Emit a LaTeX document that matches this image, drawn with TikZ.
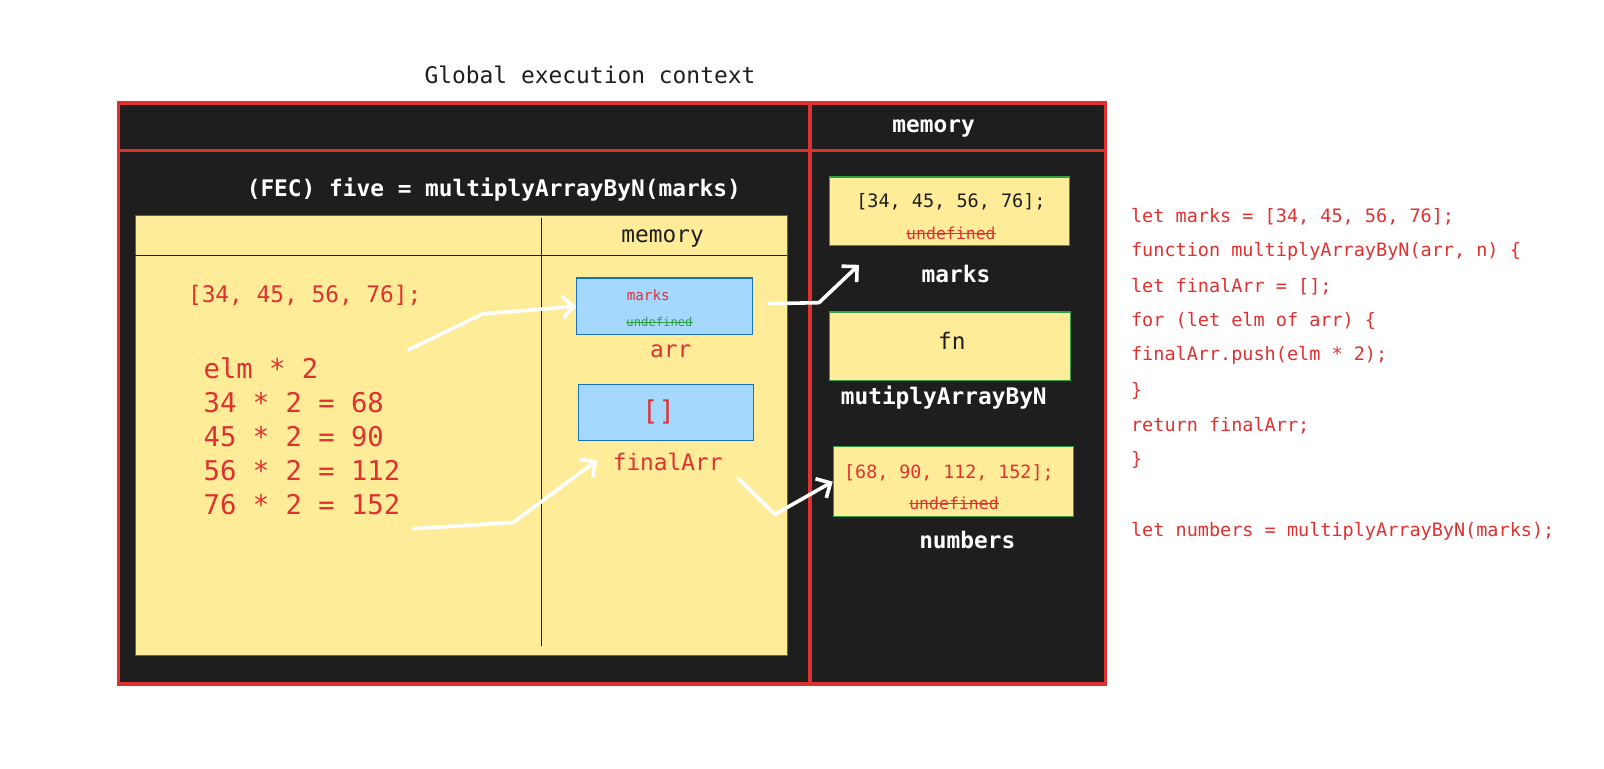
\documentclass[tikz,border=0pt]{standalone}
\usepackage{fontspec}
\setmonofont{DejaVu Sans Mono}
\usetikzlibrary{arrows.meta,fit}
\definecolor{ink}{HTML}{1E1E1E}
\definecolor{xred}{HTML}{E03131}
\definecolor{paper}{HTML}{FFEC99}
\definecolor{sky}{HTML}{A5D8FF}
\definecolor{skyline}{HTML}{1971C2}
\definecolor{leaf}{HTML}{2F9E44}
\newcommand{\mono}[1]{\ttfamily\fontsize{#1}{#1}\selectfont}
\tikzset{
  label white/.style={text=white, font=\mono{22.8}\bfseries, inner sep=0pt},
  label red/.style={text=xred, font=\mono{22.8}, inner sep=0pt},
  cell blue/.style={fill=sky, draw=skyline, line width=1.3pt, inner sep=0pt},
  cell yellow/.style={fill=paper, draw=leaf, line width=1.3pt, inner sep=0pt},
  code/.style={text=xred, font=\mono{18.5}, anchor=west, inner sep=0pt},
  link/.style={draw=white, line width=3.6pt, line cap=round, line join=round,
    -{Straight Barb[length=11pt,width=22pt,line width=3.6pt]}}
}
\begin{document}
\begin{tikzpicture}[x=1.0225pt,y=-1.0225pt]
	\useasboundingbox[fill=white] (0,0) rectangle (1568.7,751.1);
	\node[text=ink, font=\mono{22.9}] (title) at (577,73) {Global execution context};

	% outer frame
	\filldraw[fill=ink, draw=xred, line width=3.6pt] (116,101) rectangle (1081,669);
	\draw[xred, line width=3.6pt] (116,147) -- (1081,147);
	\draw[xred, line width=3.6pt] (792,101) -- (792,669);
	\node[label white] (gmem) at (913,126) {memory};

	% function execution context
	\node[label white] (fec) at (483,185) {(FEC) five = multiplyArrayByN(marks)};
	\filldraw[fill=paper, draw=ink!70, line width=0.8pt] (132,211) rectangle (770,641);
	\draw[ink, line width=1pt] (132,250) -- (770,250);
	\draw[ink, line width=1pt] (530,213) -- (530,632);
	\node[text=ink, font=\mono{22.8}, inner sep=0pt] (fmem) at (648,233) {memory};

	\node[label red] (marksval) at (298,289) {[34, 45, 56, 76];};
	\foreach \t [count=\i] in {elm * 2, 34 * 2 = 68, 45 * 2 = 90, 56 * 2 = 112, 76 * 2 = 152}
		\node[text=xred, font=\mono{27.2}, anchor=west, inner sep=0pt] (calc\i) at (199,327+33.3*\i) {\t};

	\node[cell blue, fit={(564,272) (736,327)}] (arrbox) {};
	\node[text=xred, font=\mono{14.3}, inner sep=0pt] (arrref) at (634,289) {marks};
	\node[text=leaf, font=\mono{12.2}, inner sep=0pt] (arrundef) at (645,315) {undefined};
	\draw[leaf, line width=1pt] (arrundef.west) -- (arrundef.east);
	\node[label red] (arr) at (656,344) {arr};

	\node[cell blue, fit={(566,376) (737,431)}] (finbox) {};
	\node[text=xred, font=\mono{27.2}, inner sep=0pt] (finval) at (644,403) {[]};
	\node[label red] (finalArr) at (653,452) {finalArr};

	% global memory
	\node[cell yellow, fit={(811,173) (1046,240)}] (marksbox) {};
	\node[text=ink, font=\mono{18.5}, inner sep=0pt] (marksnum) at (930,197) {[34, 45, 56, 76];};
	\node[text=xred, font=\mono{16.5}, inner sep=0pt] (undef1) at (930,228) {undefined};
	\draw[xred, line width=1pt] (undef1.west) -- (undef1.east);
	\node[label white] (marks) at (935,268) {marks};

	\node[cell yellow, fit={(811,305) (1047,372)}] (fnbox) {};
	\node[text=ink, font=\mono{22.8}, inner sep=0pt] (fn) at (931,333) {fn};
	\node[label white] (fname) at (923,389) {mutiplyArrayByN};

	\node[cell yellow, fit={(815,437) (1050,505)}] (numbox) {};
	\node[text=xred, font=\mono{18.3}, inner sep=0pt] (numval) at (928,462) {[68, 90, 112, 152];};
	\node[text=xred, font=\mono{16.5}, inner sep=0pt] (undef2) at (933,492) {undefined};
	\draw[xred, line width=1pt] (undef2.west) -- (undef2.east);
	\node[label white] (numbers) at (946,528) {numbers};

	% source code
	\node[code] (c1) at (1106,212) {let marks = [34, 45, 56, 76];};
	\node[code] (c2) at (1106,246) {function multiplyArrayByN(arr, n) \{};
	\node[code] (c3) at (1106,280) {let finalArr = [];};
	\node[code] (c4) at (1106,314) {for (let elm of arr) \{};
	\node[code] (c5) at (1106,348) {finalArr.push(elm * 2);};
	\node[code] (c6) at (1106,382) {\}};
	\node[code] (c7) at (1106,416) {return finalArr;};
	\node[code] (c8) at (1106,450) {\}};
	\node[code] (c9) at (1106,520) {let numbers = multiplyArrayByN(marks);};

	% arrows
	\coordinate (a1) at (400,342);
	\coordinate (a2) at (404,517);
	\coordinate (m1) at (752,297);
	\coordinate (m2) at (722,468);
	\draw[link] (a1) -- (472,307) -- (arrbox.west);
	\draw[link] (a2) -- (502,511) -- (584,450);
	\draw[link] (m1) -- (801,296) -- (840,259);
	\draw[link] (m2) -- (758,503) -- (numbox.west);
\end{tikzpicture}
\end{document}
